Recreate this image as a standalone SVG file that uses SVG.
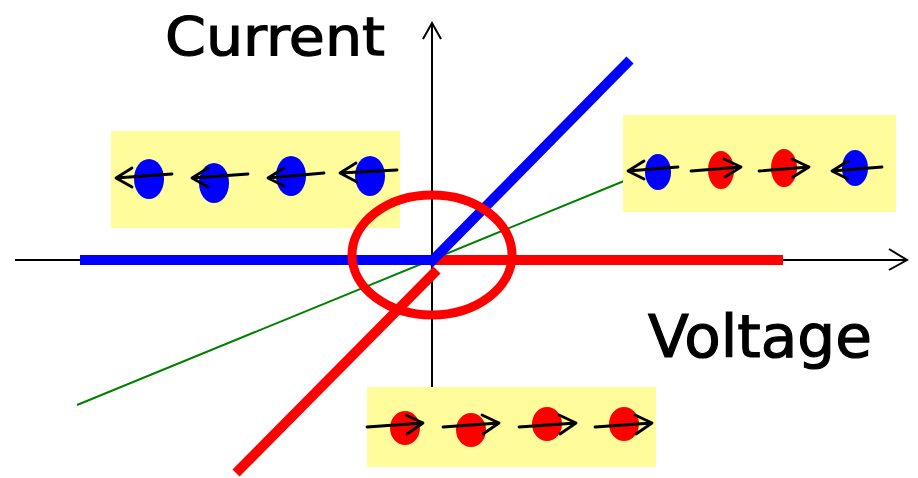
<svg xmlns="http://www.w3.org/2000/svg" width="918" height="478" viewBox="0 0 918 478">
<style>
.box{fill:#fffc9c}
.ax{stroke:#000;stroke-width:2;fill:none}
.thick{stroke-width:10;fill:none;stroke-linecap:butt}
.arr{stroke:#000;stroke-width:2.8;fill:none;stroke-linecap:round;stroke-linejoin:round}
.lbl{font-family:"Comic Sans MS","DejaVu Sans",sans-serif;fill:#000;stroke:#000;stroke-width:1.2}
.b{fill:#0000ff}
.r{fill:#ff0000}
</style>
<rect width="918" height="478" fill="#fff"/>
<g id="connectors">
  <line class="ax" x1="15" y1="260" x2="906" y2="260"/>
  <polyline class="ax" points="889,249 907,260 889,270"/>
  <line class="ax" x1="432" y1="387" x2="432" y2="23"/>
  <polyline class="ax" points="423,39 432,23 441,39"/>
  <line x1="77" y1="405" x2="624" y2="181" stroke="#008000" stroke-width="2"/>
  <line class="thick" stroke="#0000ff" x1="80" y1="260" x2="432" y2="260"/>
  <line class="thick" stroke="#ff0000" x1="432" y1="260" x2="783" y2="260"/>
  <line class="thick" stroke="#0000ff" x1="429" y1="264" x2="630" y2="60"/>
  <line class="thick" stroke="#ff0000" x1="437" y1="270" x2="236" y2="473"/>
</g>
<g id="box-left">
  <rect class="box" x="111" y="131" width="289" height="97"/>
  <ellipse class="b" cx="149" cy="179" rx="15" ry="20"/>
  <ellipse class="b" cx="214" cy="183" rx="15" ry="20"/>
  <ellipse class="b" cx="291" cy="176" rx="15" ry="20"/>
  <ellipse class="b" cx="370" cy="176" rx="15" ry="20"/>
  <path class="arr" d="M172,174 L116,178 M132,168 L116,178 L132,187"/>
  <path class="arr" d="M248,174 L192,178 M208,168 L192,178 L208,187"/>
  <path class="arr" d="M324,173 L268,178 M284,168 L268,178 L284,186"/>
  <path class="arr" d="M397,170 L340,173 M356,163 L340,173 L357,182"/>
</g>
<g id="box-right">
  <rect class="box" x="623" y="115" width="273" height="97"/>
  <ellipse class="b" cx="658" cy="172" rx="13" ry="18"/>
  <ellipse class="r" cx="721" cy="170" rx="13" ry="19"/>
  <ellipse class="r" cx="784" cy="168" rx="13" ry="19"/>
  <ellipse class="b" cx="855" cy="168" rx="13" ry="18"/>
  <path class="arr" d="M678,167 L628,171 M644,161 L628,171 L644,179"/>
  <path class="arr" d="M691,171 L741,167 M724,159 L741,167 L725,177"/>
  <path class="arr" d="M759,171 L809,167 M792,159 L809,167 L793,177"/>
  <path class="arr" d="M882,167 L832,171 M848,161 L832,171 L848,179"/>
</g>
<g id="box-bottom">
  <rect class="box" x="367" y="387" width="289" height="80"/>
  <ellipse class="r" cx="405" cy="428" rx="15" ry="17"/>
  <ellipse class="r" cx="471" cy="430" rx="15" ry="17"/>
  <ellipse class="r" cx="547" cy="424" rx="15" ry="17"/>
  <ellipse class="r" cx="624" cy="424" rx="15" ry="17"/>
  <path class="arr" d="M367,427 L423,423 M406,415 L423,423 L407,434"/>
  <path class="arr" d="M443,427 L499,423 M482,415 L499,423 L483,434"/>
  <path class="arr" d="M519,427 L576,423 M559,415 L576,423 L560,434"/>
  <path class="arr" d="M595,427 L652,423 M635,415 L652,423 L636,434"/>
</g>
<g id="origin-ring">
  <ellipse cx="432" cy="255" rx="80" ry="60" fill="none" stroke="#ff0000" stroke-width="9"/>
</g>
<g id="label-current">
  <text class="lbl" x="165" y="55" font-size="54" textLength="220" lengthAdjust="spacingAndGlyphs">Current</text>
</g>
<g id="label-voltage">
  <text class="lbl" x="648" y="357" font-size="58" textLength="224" lengthAdjust="spacingAndGlyphs">Voltage</text>
</g>
</svg>
